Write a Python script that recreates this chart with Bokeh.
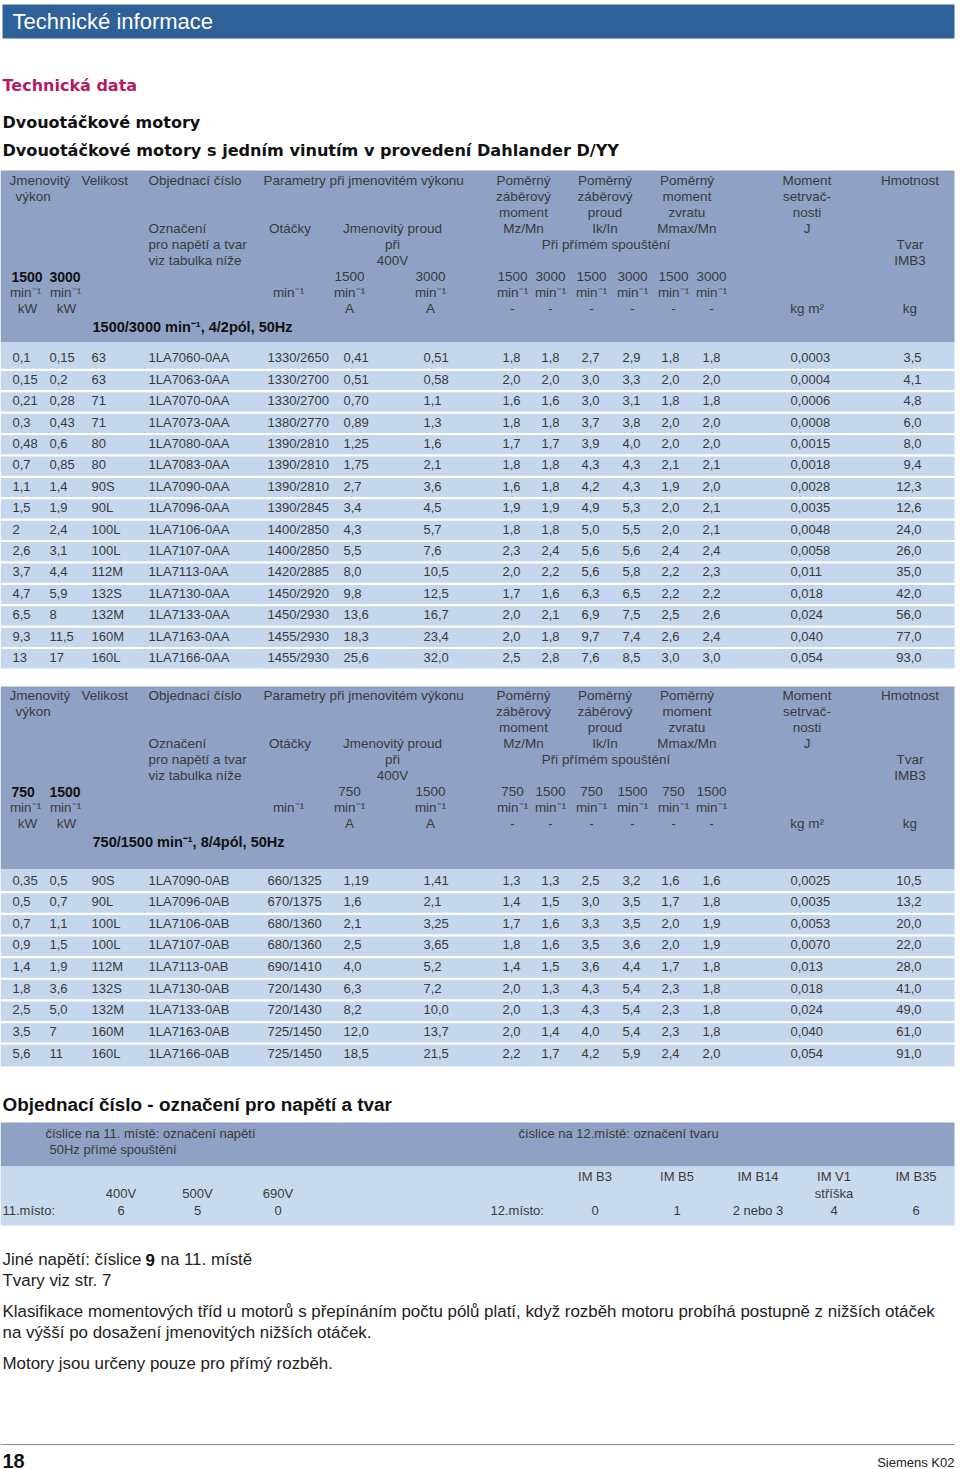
from bokeh.plotting import figure
from bokeh.models import Range1d, ColumnDataSource
from bokeh.core.properties import value
from bokeh.embed import file_html
from bokeh.resources import INLINE

# ---------------- data: table 1 (1500/3000 min-1, 4/2 pol) ----------------
t1_kw_low = ["0,1", "0,15", "0,21", "0,3", "0,48", "0,7", "1,1", "1,5", "2", "2,6", "3,7", "4,7", "6,5", "9,3", "13"]
t1_kw_high = ["0,15", "0,2", "0,28", "0,43", "0,6", "0,85", "1,4", "1,9", "2,4", "3,1", "4,4", "5,9", "8", "11,5", "17"]
t1_size = ["63", "63", "71", "71", "80", "80", "90S", "90L", "100L", "100L", "112M", "132S", "132M", "160M", "160L"]
t1_order = ["1LA7060-0AA", "1LA7063-0AA", "1LA7070-0AA", "1LA7073-0AA", "1LA7080-0AA", "1LA7083-0AA",
            "1LA7090-0AA", "1LA7096-0AA", "1LA7106-0AA", "1LA7107-0AA", "1LA7113-0AA", "1LA7130-0AA",
            "1LA7133-0AA", "1LA7163-0AA", "1LA7166-0AA"]
t1_speed = ["1330/2650", "1330/2700", "1330/2700", "1380/2770", "1390/2810", "1390/2810", "1390/2810",
            "1390/2845", "1400/2850", "1400/2850", "1420/2885", "1450/2920", "1450/2930", "1455/2930", "1455/2930"]
t1_i_low = ["0,41", "0,51", "0,70", "0,89", "1,25", "1,75", "2,7", "3,4", "4,3", "5,5", "8,0", "9,8", "13,6", "18,3", "25,6"]
t1_i_high = ["0,51", "0,58", "1,1", "1,3", "1,6", "2,1", "3,6", "4,5", "5,7", "7,6", "10,5", "12,5", "16,7", "23,4", "32,0"]
t1_mz_low = ["1,8", "2,0", "1,6", "1,8", "1,7", "1,8", "1,6", "1,9", "1,8", "2,3", "2,0", "1,7", "2,0", "2,0", "2,5"]
t1_mz_high = ["1,8", "2,0", "1,6", "1,8", "1,7", "1,8", "1,8", "1,9", "1,8", "2,4", "2,2", "1,6", "2,1", "1,8", "2,8"]
t1_ik_low = ["2,7", "3,0", "3,0", "3,7", "3,9", "4,3", "4,2", "4,9", "5,0", "5,6", "5,6", "6,3", "6,9", "9,7", "7,6"]
t1_ik_high = ["2,9", "3,3", "3,1", "3,8", "4,0", "4,3", "4,3", "5,3", "5,5", "5,6", "5,8", "6,5", "7,5", "7,4", "8,5"]
t1_mm_low = ["1,8", "2,0", "1,8", "2,0", "2,0", "2,1", "1,9", "2,0", "2,0", "2,4", "2,2", "2,2", "2,5", "2,6", "3,0"]
t1_mm_high = ["1,8", "2,0", "1,8", "2,0", "2,0", "2,1", "2,0", "2,1", "2,1", "2,4", "2,3", "2,2", "2,6", "2,4", "3,0"]
t1_j = ["0,0003", "0,0004", "0,0006", "0,0008", "0,0015", "0,0018", "0,0028", "0,0035", "0,0048", "0,0058",
        "0,011", "0,018", "0,024", "0,040", "0,054"]
t1_kg = ["3,5", "4,1", "4,8", "6,0", "8,0", "9,4", "12,3", "12,6", "24,0", "26,0", "35,0", "42,0", "56,0", "77,0", "93,0"]

# ---------------- data: table 2 (750/1500 min-1, 8/4 pol) ----------------
t2_kw_low = ["0,35", "0,5", "0,7", "0,9", "1,4", "1,8", "2,5", "3,5", "5,6"]
t2_kw_high = ["0,5", "0,7", "1,1", "1,5", "1,9", "3,6", "5,0", "7", "11"]
t2_size = ["90S", "90L", "100L", "100L", "112M", "132S", "132M", "160M", "160L"]
t2_order = ["1LA7090-0AB", "1LA7096-0AB", "1LA7106-0AB", "1LA7107-0AB", "1LA7113-0AB", "1LA7130-0AB",
            "1LA7133-0AB", "1LA7163-0AB", "1LA7166-0AB"]
t2_speed = ["660/1325", "670/1375", "680/1360", "680/1360", "690/1410", "720/1430", "720/1430", "725/1450", "725/1450"]
t2_i_low = ["1,19", "1,6", "2,1", "2,5", "4,0", "6,3", "8,2", "12,0", "18,5"]
t2_i_high = ["1,41", "2,1", "3,25", "3,65", "5,2", "7,2", "10,0", "13,7", "21,5"]
t2_mz_low = ["1,3", "1,4", "1,7", "1,8", "1,4", "2,0", "2,0", "2,0", "2,2"]
t2_mz_high = ["1,3", "1,5", "1,6", "1,6", "1,5", "1,3", "1,3", "1,4", "1,7"]
t2_ik_low = ["2,5", "3,0", "3,3", "3,5", "3,6", "4,3", "4,3", "4,0", "4,2"]
t2_ik_high = ["3,2", "3,5", "3,5", "3,6", "4,4", "5,4", "5,4", "5,4", "5,9"]
t2_mm_low = ["1,6", "1,7", "2,0", "2,0", "1,7", "2,3", "2,3", "2,3", "2,4"]
t2_mm_high = ["1,6", "1,8", "1,9", "1,9", "1,8", "1,8", "1,8", "1,8", "2,0"]
t2_j = ["0,0025", "0,0035", "0,0053", "0,0070", "0,013", "0,018", "0,024", "0,040", "0,054"]
t2_kg = ["10,5", "13,2", "20,0", "22,0", "28,0", "41,0", "49,0", "61,0", "91,0"]

# ---------------- data: table 3 (ordering code) ----------------
voltage_labels = ["400V", "500V", "690V"]
voltage_digits = ["6", "5", "0"]
mount_labels = ["IM B3", "IM B5", "IM B14", "IM V1", "IM B35"]
mount_digits = ["0", "1", "2 nebo 3", "4", "6"]

# ---------------- page ----------------
p = figure(width=960, height=1469, x_range=Range1d(0, 960), y_range=Range1d(1469, 0),
           output_backend="svg", toolbar_location=None, x_axis_location=None, y_axis_location=None,
           min_border=0, min_border_left=0, min_border_right=0, min_border_top=0, min_border_bottom=0)
p.grid.visible = False
p.outline_line_color = None
p.background_fill_color = "white"
p.border_fill_color = "white"

BAR = "#2e6099"
HDR = "#8fa2c5"
ROW = "#c4d7ec"
LIGHT3 = "#c8daee"
TXT = "#3a3a3a"
FONT = "Liberation Sans"


def txt(xs, ys, texts, size=13, align="left", bold=False, color=TXT, font=FONT):
    src = ColumnDataSource(dict(x=list(xs), y=list(ys), t=list(texts)))
    p.text(x="x", y="y", text="t", source=src, text_font=value(font), text_font_size=f"{size}px",
           text_align=align, text_baseline="middle", text_color=color,
           text_font_style="bold" if bold else "normal")


def box(l, r, t, b, color):
    p.quad(left=[l], right=[r], top=[t], bottom=[b], fill_color=color, line_color=None)


# title bar
box(2, 954, 4, 38, BAR)
txt([12], [21], ["Technické informace"], size=22, color="white")

# headings
txt([2], [85], ["Technická data"], size=16, bold=True, color="#b31b63", font="DejaVu Sans")
txt([2], [122], ["Dvouotáčkové motory"], size=16, bold=True, color="#111111", font="DejaVu Sans")
txt([2], [150], ["Dvouotáčkové motory s jedním vinutím v provedení Dahlander D/YY"], size=16.1, bold=True,
    color="#111111", font="DejaVu Sans")

LEFT_X = [12, 49, 91, 148, 267, 343, 423, 502, 541, 581, 622, 661, 702, 790]
KG_X = 921
MIN1 = "min\u207b\u00b9"


def header(off, top, bottom, s_lo, s_hi, note):
    box(0, 954, top, bottom, HDR)
    Y = [180 + off + 16 * k for k in range(9)]
    hs = 13.5
    txt([9, 81, 148, 263], [Y[0]] * 4,
        ["Jmenovitý", "Velikost", "Objednací číslo", "Parametry při jmenovitém výkonu"], size=hs)
    txt([15], [Y[1]], ["výkon"], size=hs)
    cols3 = [523, 604.5, 686.5]
    lines = [["Poměrný", "záběrový", "moment", "Mz/Mn"],
             ["Poměrný", "záběrový", "proud", "Ik/In"],
             ["Poměrný", "moment", "zvratu", "Mmax/Mn"],
             ["Moment", "setrvač-", "nosti", "J"]]
    for cx, ln in zip(cols3 + [806.5], lines):
        txt([cx] * 4, Y[0:4], ln, size=hs, align="center")
    txt([909.5], [Y[0]], ["Hmotnost"], size=hs, align="center")
    txt([148, 148, 148], Y[3:6], ["Označení", "pro napětí a tvar", "viz tabulka níže"], size=hs)
    txt([289.5, 392, 392, 392], [Y[3], Y[3], Y[4], Y[5]], ["Otáčky", "Jmenovitý proud", "při", "400V"],
        size=hs, align="center")
    txt([605.5, 909.5, 909.5], [Y[4], Y[4], Y[5]], ["Při přímém spouštění", "Tvar", "IMB3"], size=hs,
        align="center")
    txt([11, 49], [Y[6], Y[6]], [s_lo, s_hi], size=14, bold=True, color="#111111")
    rc = [512, 550, 591, 632, 673, 711]
    txt([349, 430] + rc, [Y[6]] * 8, [s_lo, s_hi] + [s_lo, s_hi] * 3, size=hs, align="center")
    txt([25, 65, 288, 349, 430] + rc, [Y[7]] * 11, [MIN1] * 11, size=hs, align="center")
    txt([27, 66, 349, 430] + rc + [806.5, 909.5], [Y[8]] * 12,
        ["kW", "kW", "A", "A"] + ["-"] * 6 + ["kg m²", "kg"], size=hs, align="center")
    txt([92], [326 + off], [note], size=14.5, bold=True, color="#111111")


def body(cols, kg, y_first, pitch, top, bottom):
    n = len(kg)
    box(0, 954, top, bottom, ROW)
    yc = [y_first + i * pitch for i in range(n)]
    for i in range(n - 1):
        box(0, 954, yc[i] + pitch / 2 + 0.2, yc[i] + pitch / 2 + 2.4, "white")
    for x, c in zip(LEFT_X, cols):
        txt([x] * n, yc, c, size=13)
    txt([KG_X] * n, yc, kg, size=13, align="right")


header(0, 170, 342, "1500", "3000", "1500/3000 " + MIN1 + ", 4/2pól, 50Hz")
body([t1_kw_low, t1_kw_high, t1_size, t1_order, t1_speed, t1_i_low, t1_i_high,
      t1_mz_low, t1_mz_high, t1_ik_low, t1_ik_high, t1_mm_low, t1_mm_high, t1_j],
     t1_kg, 357.3, 21.4, 342, 668)

header(515, 686, 869, "750", "1500", "750/1500 " + MIN1 + ", 8/4pól, 50Hz")
body([t2_kw_low, t2_kw_high, t2_size, t2_order, t2_speed, t2_i_low, t2_i_high,
      t2_mz_low, t2_mz_high, t2_ik_low, t2_ik_high, t2_mm_low, t2_mm_high, t2_j],
     t2_kg, 879.5, 21.65, 869, 1066)

# ordering code table
txt([2], [1104], ["Objednací číslo - označení pro napětí a tvar"], size=18.9, bold=True, color="#111111")
box(0, 954, 1122, 1166, HDR)
box(0, 954, 1166, 1225, LIGHT3)
txt([45, 49, 518], [1133, 1149, 1133],
    ["číslice na 11. místě: označení napětí", "50Hz  přímé spouštění", "číslice na 12.místě: označení tvaru"],
    size=13)
vx = [120.5, 197, 277.5]
mx = [594.5, 676.5, 757.5, 833.5, 915.5]
txt(vx, [1193] * 3, voltage_labels, size=13, align="center")
txt(vx, [1210] * 3, voltage_digits, size=13, align="center")
txt(mx, [1176] * 5, mount_labels, size=13, align="center")
txt([833.5], [1193], ["stříška"], size=13, align="center")
txt(mx, [1210] * 5, mount_digits, size=13, align="center")
txt([2, 490], [1210, 1210], ["11.místo:", "12.místo:"], size=13)

# notes
NS = 16.9
txt([2], [1259], ["Jiné napětí: číslice"], size=NS, color="#222222")
txt([145], [1259], ["9"], size=NS, bold=True, color="#111111")
txt([160], [1259], ["na 11. místě"], size=NS, color="#222222")
txt([2, 2, 2, 2], [1280, 1311, 1332, 1363],
    ["Tvary viz str. 7",
     "Klasifikace momentových tříd u motorů s přepínáním počtu pólů platí, když rozběh motoru probíhá postupně z nižších otáček",
     "na výšší po dosažení jmenovitých nižších otáček.",
     "Motory jsou určeny pouze pro přímý rozběh."], size=NS, color="#222222")

# footer
p.segment(x0=[0], y0=[1444], x1=[954], y1=[1444], line_color="#8c8c8c", line_width=1.2)
txt([2], [1460], ["18"], size=20, bold=True, color="#111111")
txt([954], [1462], ["Siemens K02"], size=13, align="right", color="#222222")

open("out.html", "w").write(file_html(p, INLINE))
